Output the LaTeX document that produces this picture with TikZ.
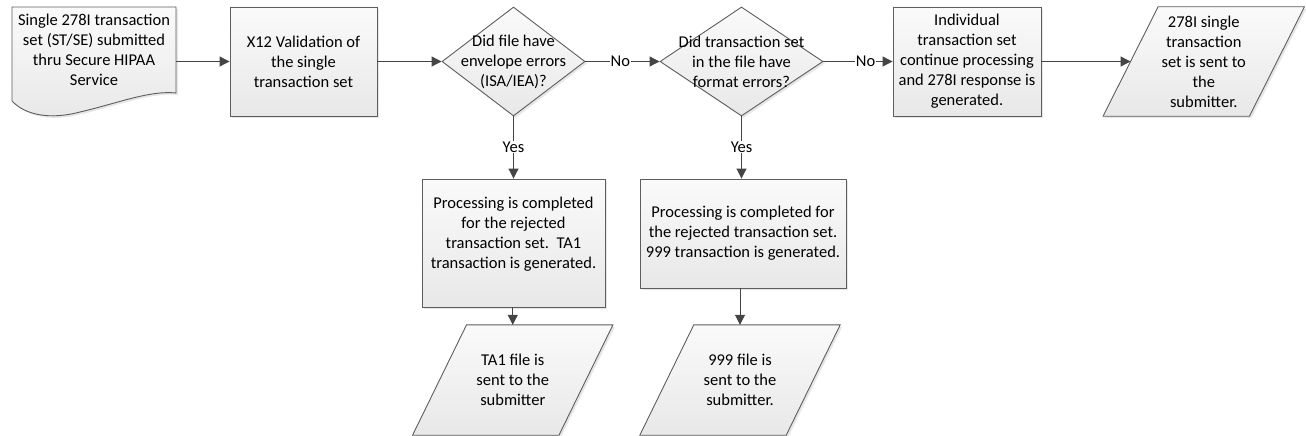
\documentclass[tikz,border=0pt]{standalone}
\usepackage{fontspec}
\setmainfont{Carlito}
\usetikzlibrary{shapes.geometric,arrows.meta,shadows,backgrounds,calc}
\definecolor{linegray}{HTML}{5E5E5E}
\definecolor{arrgray}{HTML}{454545}
\definecolor{filltop}{HTML}{FAFAFA}
\definecolor{fillbot}{HTML}{E8E8E8}
\tikzset{
  shapebase/.style={draw=linegray, line width=0.9pt, top color=filltop, bottom color=fillbot,
    drop shadow={shadow xshift=2pt, shadow yshift=-2pt, opacity=0.2}},
  procbox/.style={shapebase, rectangle, align=center, inner sep=0pt},
  decision/.style={shapebase, diamond, inner sep=0pt},
  iotext/.style={rectangle, draw=none, align=center, inner sep=0pt, minimum width=146pt, minimum height=109pt},
  arr/.style={draw=arrgray, line width=1pt, -{Triangle[length=10pt,width=10pt]}},
  lbl/.style={fill=white, inner sep=1pt, text=black},
}
\newcommand{\paragram}[2]{% node name, slant
  \path[shapebase] ($(#1.north west)+(#2/2,0)$) -- ($(#1.north east)+(#2/2,0)$)
    -- ($(#1.south east)-(#2/2,0)$) -- ($(#1.south west)-(#2/2,0)$) -- cycle;}
\begin{document}
\begin{tikzpicture}[x=1pt, y=-1pt, font=\fontsize{16.5}{20}\selectfont]
\useasboundingbox (0,0) rectangle (1306,436);

% document shape
\path[shapebase] (12,7) -- (176,7) -- (176,93)
  .. controls (150,90) and (115,104) .. (80,112)
  .. controls (50,120) and (25,115) .. (12,101) -- cycle;
\node[align=center] (doc) at (94,50) {Single 278I transaction\\set (ST/SE) submitted\\thru Secure HIPAA\\Service};
\coordinate (docR) at (176,61.5);

\node[procbox, minimum width=147pt, minimum height=109pt] (x12) at (303.5,61.5)
  {X12 Validation of\\the single\\transaction set};

\node[decision, minimum width=143pt, minimum height=109pt,
  label={[align=center]center:Did file have\\envelope errors\\(ISA/IEA)?}] (d1) at (513.5,61.5) {};

\node[decision, minimum width=163pt, minimum height=109pt,
  label={[align=center]center:Did transaction set\\in the file have\\format errors?}] (d2) at (741.5,61.5) {};

\node[procbox, minimum width=148pt, minimum height=109pt] (b3) at (967,61.5)
  {Individual\\transaction set\\continue processing\\and 278I response is\\generated.};

\node[iotext] (p3) at (1203.75,61.5) {278I single\\transaction\\set is sent to\\the\\submitter.};

\node[procbox, minimum width=183pt, minimum height=128pt,
  label={[align=center, yshift=9pt]center:Processing is completed\\for the rejected\\transaction set.\ \ TA1\\transaction is generated.}] (b1) at (513.5,243) {};

\node[procbox, minimum width=206pt, minimum height=109pt] (b2) at (743,233.5)
  {Processing is completed for\\the rejected transaction set.\\999 transaction is generated.};

\node[iotext, minimum height=110pt] (p1) at (512.75,380) {TA1 file is\\sent to the\\submitter};
\node[iotext, minimum height=110pt] (p2) at (740,380) {999 file is\\sent to the\\submitter.};

\begin{pgfonlayer}{background}
  \paragram{p3}{55}
  \paragram{p1}{54}
  \paragram{p2}{54}
\end{pgfonlayer}

% connectors
\draw[arr] (docR) -- (docR -| x12.west);
\draw[arr] (x12) -- (d1);
\draw[arr] (d1) -- node[lbl, pos=0.47] {No} (d2);
\draw[arr] (d2) -- node[lbl, pos=0.61] {No} (b3);
\draw[arr] (b3.east) -- (p3.west);
\draw[arr] (d1.south) -- node[lbl, pos=0.49] {Yes} (d1.south |- b1.north);
\draw[arr] (d2.south) -- node[lbl, pos=0.49] {Yes} (d2.south |- b2.north);
\draw[arr] (b1.south -| p1.north) -- (p1.north);
\draw[arr] (b2.south -| p2.north) -- (p2.north);
\end{tikzpicture}
\end{document}
